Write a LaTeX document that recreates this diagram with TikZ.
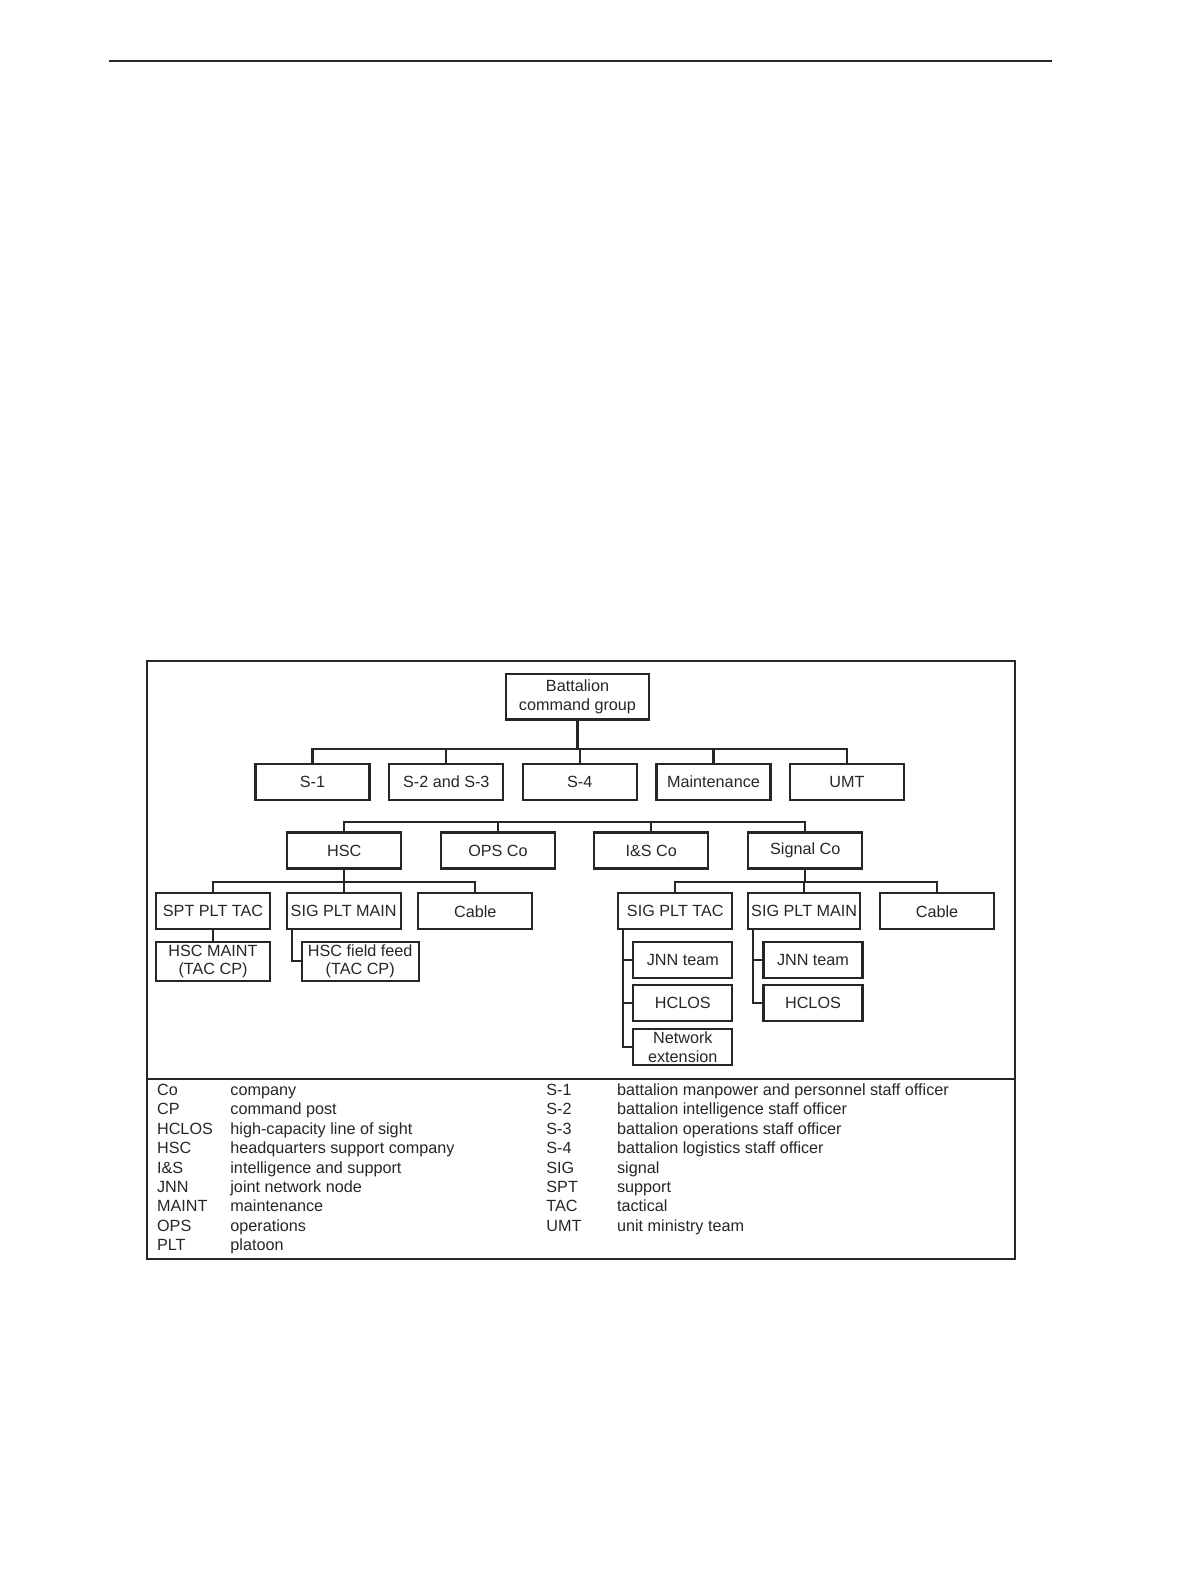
\documentclass[tikz,border=0pt]{standalone}
\usepackage{fontspec}
\setmainfont{Liberation Sans}
\definecolor{ink}{HTML}{262626}
\begin{document}
\begin{tikzpicture}[x=0.5pt, y=-0.5pt,
    orgbox/.style={draw=ink, line width=1.1pt, minimum width=57pt, minimum height=18pt,
        inner sep=0pt, align=center, text=ink, font=\fontsize{8.1}{9.2}\selectfont},
    wire/.style={draw=ink, line width=1.1pt},
    legtext/.style={anchor=base west, inner sep=0pt, text=ink, font=\fontsize{8.1}{9.6}\selectfont}]
    \useasboundingbox (0,0) rectangle (1200,1575);

    % page rule and frame
    \draw[ink, line width=1pt] (108.5,61.3) -- (1052.4,61.3);
    \draw[ink, line width=1.2pt] (146.7,660.7) rectangle (1015,1259);
    \draw[ink, line width=1.2pt] (146.7,1079) -- (1015,1079);

    % command group and staff
    \node [orgbox, minimum width=71.8pt, minimum height=22.7pt] (bcg) at (577.5,696.7) {Battalion\\command group};
    \node [orgbox] (s1) at (312.5,782) {S-1};
    \node [orgbox] (s23) at (446.3,782) {S-2 and S-3};
    \node [orgbox] (s4) at (579.7,782) {S-4};
    \node [orgbox] (maint) at (713.5,782) {Maintenance};
    \node [orgbox] (umt) at (847,782) {UMT};

    % companies
    \node [orgbox] (hsc) at (344.3,850.5) {HSC};
    \node [orgbox] (opsco) at (498,850.5) {OPS Co};
    \node [orgbox] (isco) at (651.3,850.5) {I\&S Co};
    \node [orgbox] (sigco) at (805.3,850.5) {Signal Co};

    % HSC platoons
    \node [orgbox] (sptpt) at (213,911.3) {SPT PLT TAC};
    \node [orgbox] (sigpm1) at (343.7,911.3) {SIG PLT MAIN};
    \node [orgbox] (cable1) at (475.3,911.3) {Cable};
    \node [orgbox, minimum height=19.7pt] (hscmaint) at (213,961.3) {HSC MAINT\\(TAC CP)};
    \node [orgbox, minimum width=58.5pt, minimum height=19.7pt] (feed) at (360.2,961.3) {HSC field feed\\(TAC CP)};

    % Signal Co platoons
    \node [orgbox] (sigpt) at (675.3,911.3) {SIG PLT TAC};
    \node [orgbox, minimum width=56pt] (sigpm2) at (804.2,911.3) {SIG PLT MAIN};
    \node [orgbox] (cable2) at (937,911.3) {Cable};
    \node [orgbox, minimum width=49.5pt] (jnn1) at (682.8,959.7) {JNN team};
    \node [orgbox, minimum width=49.5pt] (hclos1) at (682.8,1003.3) {HCLOS};
    \node [orgbox, minimum width=49.5pt] (netext) at (682.8,1047) {Network\\extension};
    \node [orgbox, minimum width=49.5pt] (jnn2) at (813,959.7) {JNN team};
    \node [orgbox, minimum width=49.5pt] (hclos2) at (813,1003.3) {HCLOS};

    % connectors
    \coordinate (busA) at (575,749);
    \coordinate (busB) at (575,822.3);
    \coordinate (busC) at (344.3,881.7);
    \coordinate (busD) at (805.3,882.3);

    \draw[wire] (bcg.south) -- (bcg.south |- busA);
    \draw[wire] (s1.north) |- (busA) -| (umt.north);
    \foreach \n in {s23,s4,maint}
        \draw[wire] (\n.north) -- (\n.north |- busA);

    \draw[wire] (hsc.north) |- (busB) -| (sigco.north);
    \foreach \n in {opsco,isco}
        \draw[wire] (\n.north) -- (\n.north |- busB);

    \draw[wire] (hsc.south) -- (busC);
    \draw[wire] (sptpt.north) |- (busC) -| (cable1.north);
    \draw[wire] (sigpm1.north) -- (sigpm1.north |- busC);
    \draw[wire] (sptpt.south) -- (hscmaint.north);
    \draw[wire] ([xshift=3pt]sigpm1.south west) |- (feed.west);

    \draw[wire] (sigco.south) -- (busD);
    \draw[wire] (sigpt.north) |- (busD) -| (cable2.north);
    \draw[wire] (sigpm2.north) -- (sigpm2.north |- busD);
    \draw[wire] ([xshift=3pt]sigpt.south west) |- (netext.west);
    \foreach \n in {jnn1,hclos1}
        \draw[wire] (\n.west) -- ([xshift=3pt]sigpt.south west |- \n.west);
    \draw[wire] ([xshift=3pt]sigpm2.south west) |- (hclos2.west);
    \draw[wire] (jnn2.west) -- ([xshift=3pt]sigpm2.south west |- jnn2.west);

    % legend
    \foreach \abbr/\desc [count=\i from 0] in {Co/company, CP/command post,
        HCLOS/high-capacity line of sight, HSC/headquarters support company,
        I\&S/intelligence and support, JNN/joint network node, MAINT/maintenance,
        OPS/operations, PLT/platoon} {
        \node [legtext] (la\i) at (156.7,{1095.5+19.4*\i}) {\abbr};
        \node [legtext] (ld\i) at (230,{1095.5+19.4*\i}) {\desc};
    }
    \foreach \abbr/\desc [count=\i from 0] in {S-1/battalion manpower and personnel staff officer,
        S-2/battalion intelligence staff officer, S-3/battalion operations staff officer,
        S-4/battalion logistics staff officer, SIG/signal, SPT/support, TAC/tactical,
        UMT/unit ministry team} {
        \node [legtext] (ra\i) at (546,{1095.5+19.4*\i}) {\abbr};
        \node [legtext] (rd\i) at (616.7,{1095.5+19.4*\i}) {\desc};
    }
\end{tikzpicture}
\end{document}
